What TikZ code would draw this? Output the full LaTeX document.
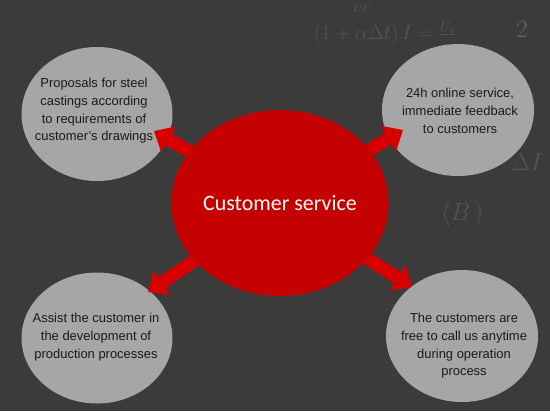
\documentclass[tikz,border=0pt]{standalone}
\usepackage{fontspec}
\setmainfont{Liberation Sans}
\newfontfamily\calibrifont{Carlito}
\usetikzlibrary{shapes.geometric,arrows.meta}
\definecolor{board}{HTML}{3B3B3B}
\definecolor{bubblegray}{HTML}{A6A6A6}
\definecolor{centrered}{HTML}{C40000}
\definecolor{arrowred}{HTML}{D60000}
\definecolor{txtdark}{HTML}{1A1A1A}
\begin{document}
\begin{tikzpicture}[x=1bp,y=-1bp,
  bubble/.style={ellipse,fill=bubblegray,inner sep=0pt},
  bubbletext/.style={align=center,text=txtdark,inner sep=0pt,font=\fontsize{13}{17.8}\selectfont},
  blockarrow/.style={draw=arrowred,line width=13bp,-{Triangle[length=17bp,width=29bp]}},
  chalk/.style={text=white,opacity=0.13,inner sep=0pt}]
\useasboundingbox (0,0) rectangle (550,411);
\fill[board] (0,0) rectangle (550,411);
% faint chalk marks
\node[chalk,font=\fontsize{18}{18}\selectfont] (ch1) at (362,9) {$\nu e$};
\node[chalk,font=\fontsize{20}{20}\selectfont] (ch3) at (385,34) {$(1+\alpha\Delta t)\,I=\frac{U_e}{\;\;}$};
\node[chalk,font=\fontsize{40}{40}\selectfont,opacity=0.2] (ch4) at (522,30) {$2$};
\node[chalk,font=\fontsize{26}{26}\selectfont] (ch5) at (527,162) {$\Delta I$};
\node[chalk,font=\fontsize{26}{26}\selectfont] (ch6) at (462,214) {$\langle B\,)$};
% bubbles
\node[bubble,minimum width=151bp,minimum height=134bp] (tl) at (97,114) {};
\node[bubble,minimum width=152bp,minimum height=132bp] (tr) at (458,110) {};
\node[bubble,minimum width=151bp,minimum height=131bp] (bl) at (97,338) {};
\node[bubble,minimum width=152bp,minimum height=132bp] (br) at (462,336) {};
% centre
\coordinate (cc) at (280,203);
\coordinate (tltip) at (154,131);
\coordinate (trtip) at (403,130);
\coordinate (bltip) at (148,292);
\coordinate (brtip) at (412,287);
\draw[blockarrow] (cc) -- (tltip);
\draw[blockarrow] (cc) -- (trtip);
\draw[blockarrow] (cc) -- (bltip);
\draw[blockarrow] (cc) -- (brtip);
\node[ellipse,fill=centrered,inner sep=0pt,minimum width=214bp,minimum height=186bp,
  text=white,font=\calibrifont\fontsize{22}{22}\selectfont] (c) at (cc) {Customer service};
% texts
\node[bubbletext] (tltext) at (94,111) {Proposals for steel\\castings according\\to requirements of\\customer’s drawings};
\node[bubbletext] (trtext) at (460,111) {24h online service,\\immediate feedback\\to customers};
\node[bubbletext] (bltext) at (96,337) {Assist the customer in\\the development of\\production processes};
\node[bubbletext] (brtext) at (464,346) {The customers are\\free to call us anytime\\during operation\\process};
\end{tikzpicture}
\end{document}
